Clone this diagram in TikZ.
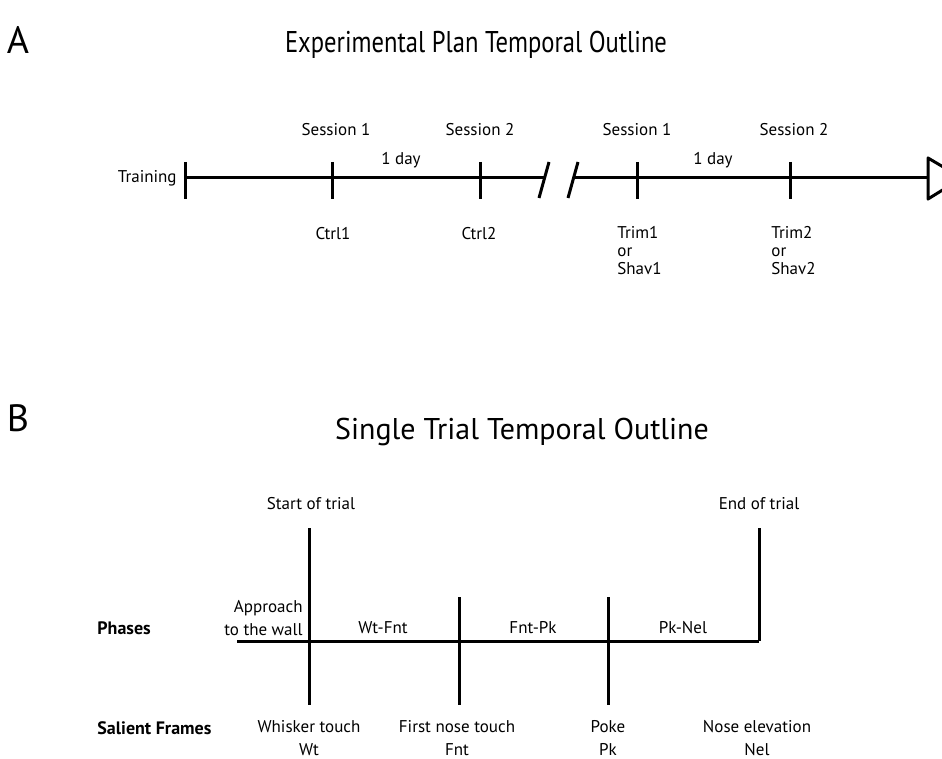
\documentclass[tikz,border=0pt]{standalone}
\usepackage{fontspec}
\setmainfont{PT Sans}
\usetikzlibrary{positioning}
\begin{document}
\begin{tikzpicture}[x=0.5pt, y=-0.5pt,
  axis/.style={black, line width=1.5pt},
  lbl/.style={inner sep=1pt, font=\fontsize{8.5}{10}\selectfont},
  head/.style={inner sep=1pt, anchor=west, font=\fontsize{9}{10}\bfseries},
  ttl/.style={font=\fontsize{15}{17}\selectfont},
  panel/.style={font=\fontsize{19}{22}\selectfont}]
  \useasboundingbox (0,0) rectangle (942,759);
  % panel A
  \node[panel] (pa) at (18,40) {A};
  \node[ttl] (ta) at (476,45) {\scalebox{0.82}[1]{Experimental Plan Temporal Outline}};
  \coordinate (a0) at (185,178);
  \coordinate (a1) at (332,178);
  \coordinate (a2) at (480,178);
  \coordinate (a3) at (544,180);
  \coordinate (a4) at (573,180);
  \coordinate (a5) at (637,178);
  \coordinate (a6) at (790,178);
  \coordinate (a7) at (928,178);
  \draw[axis] (a0) -- (a3 |- a0);
  \draw[axis] (a4 |- a0) -- (a7);
  \foreach \t in {a0,a1,a2,a5,a6}
    \draw[axis] ([yshift=8pt]\t) -- ([yshift=-10.5pt]\t);
  \draw[axis] ([xshift=-2.5pt,yshift=-9pt]a3) -- ([xshift=2.5pt,yshift=9pt]a3);
  \draw[axis] ([xshift=-2.5pt,yshift=-9pt]a4) -- ([xshift=2.5pt,yshift=9pt]a4);
  \draw[axis, line join=round] (928,158) -- (962,178) -- (928,199) -- cycle;
  \node[lbl, left=3pt of a0] (train) {Training};
  \node[lbl] (s1) at (336,130) {Session 1};
  \node[lbl] (s2) at (480,130) {Session 2};
  \node[lbl] (d1) at (401,160) {1 day};
  \node[lbl] (s3) at (637,130) {Session 1};
  \node[lbl] (s4) at (794,130) {Session 2};
  \node[lbl] (d2) at (713,160) {1 day};
  \node[lbl] (c1) at (333,234) {Ctrl1};
  \node[lbl] (c2) at (479,234) {Ctrl2};
  \node[lbl, align=left, anchor=north west, font=\fontsize{8.5}{9}\selectfont]
    (tr1) at (615,224) {Trim1\\or\\Shav1};
  \node[lbl, align=left, anchor=north west, font=\fontsize{8.5}{9}\selectfont]
    (tr2) at (769,224) {Trim2\\or\\Shav2};
  % panel B
  \node[panel] (pb) at (18,418) {B};
  \node[ttl] (tb) at (522,432) {Single Trial Temporal Outline};
  \coordinate (wt) at (309,641);
  \coordinate (fnt) at (459,641);
  \coordinate (pk) at (608,641);
  \coordinate (nel) at (759,641);
  \draw[axis] (237,641) -- (nel);
  \draw[axis] (309,528) -- (309,705);
  \draw[axis] (759,528) -- (nel);
  \draw[axis] (459,597) -- (459,705);
  \draw[axis] (608,597) -- (608,705);
  \node[lbl] (st) at (311,504) {Start of trial};
  \node[lbl] (en) at (759,504) {End of trial};
  \node[head] (ph) at (95,628) {Phases};
  \node[head] (sf) at (95,728) {Salient Frames};
  \node[lbl, align=right, anchor=south east, font=\fontsize{8.5}{11.5}\selectfont]
    (ap) at (305,638) {Approach\\to the wall};
  \node[lbl] (p1) at (383,628) {Wt-Fnt};
  \node[lbl] (p2) at (533,628) {Fnt-Pk};
  \node[lbl] (p3) at (683,628) {Pk-Nel};
  \node[lbl, align=center, anchor=north, font=\fontsize{8.5}{11.5}\selectfont]
    (f1) at (309,718) {Whisker touch\\Wt};
  \node[lbl, align=center, anchor=north, font=\fontsize{8.5}{11.5}\selectfont]
    (f2) at (457,718) {First nose touch\\Fnt};
  \node[lbl, align=center, anchor=north, font=\fontsize{8.5}{11.5}\selectfont]
    (f3) at (608,718) {Poke\\Pk};
  \node[lbl, align=center, anchor=north, font=\fontsize{8.5}{11.5}\selectfont]
    (f4) at (757,718) {Nose elevation\\Nel};
\end{tikzpicture}
\end{document}
